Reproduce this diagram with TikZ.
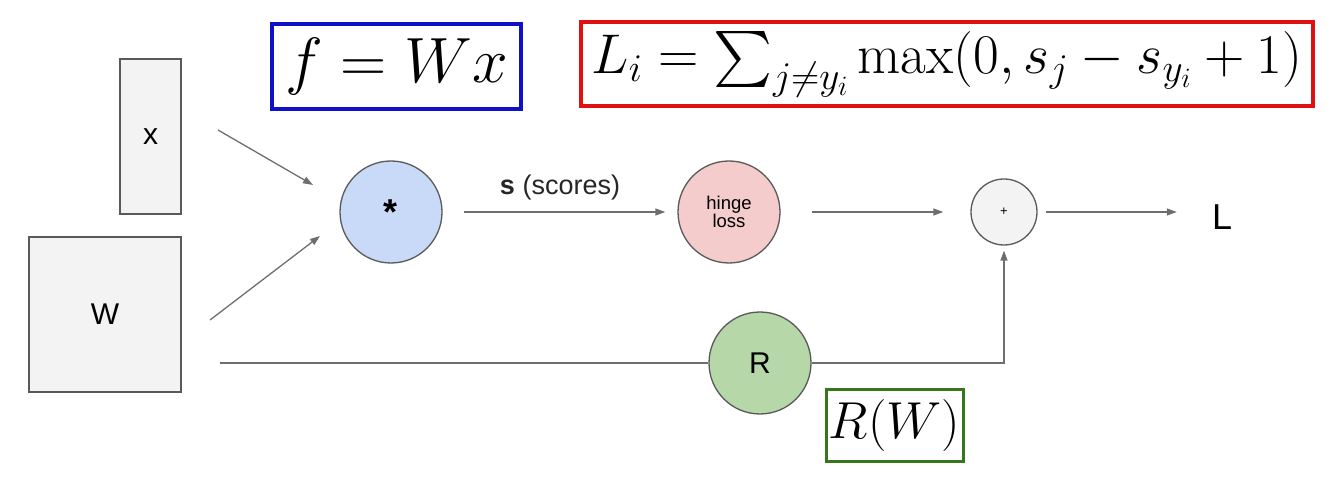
\RequirePackage{fix-cm}
\documentclass[tikz,border=0pt]{standalone}
\usepackage{amsmath}
\DeclareFontShape{OMX}{cmex}{m}{n}{<->cmex10}{}
\usepackage{fontspec}
\setsansfont{Liberation Sans}
\usetikzlibrary{arrows.meta}
\definecolor{boxfill}{HTML}{F3F3F3}
\definecolor{bordergray}{HTML}{595959}
\definecolor{linegray}{HTML}{6E6E6E}
\definecolor{mulfill}{HTML}{C9DAF8}
\definecolor{hingefill}{HTML}{F4CCCC}
\definecolor{rfill}{HTML}{B6D7A8}
\definecolor{fblue}{HTML}{1010C8}
\definecolor{lred}{HTML}{E01010}
\definecolor{rgreen}{HTML}{38761D}
\begin{document}
\begin{tikzpicture}[x=1pt,y=1pt,
  matbox/.style={draw=bordergray,line width=1.3pt,fill=boxfill,font=\sffamily\fontsize{30}{36}\selectfont},
  opnode/.style={circle,draw=bordergray,line width=1.3pt,inner sep=0pt,font=\sffamily},
  arr/.style={draw=linegray,line width=1.3pt,-{Triangle[length=10pt,width=7pt]}},
  plainline/.style={draw=linegray,line width=1.3pt},
  formbox/.style={draw,line width=3.5pt,fill=white,inner sep=0pt,font=\fontsize{64}{76}\selectfont}
]
\useasboundingbox (0,0) rectangle (1331,484);
% input boxes
\node[matbox,minimum width=61,minimum height=155] (xbox) at (150.5,347.5) {x};
\node[matbox,minimum width=152,minimum height=155] (wbox) at (105,169.5) {W};
% operation nodes
\node[opnode,fill=mulfill,minimum size=102,font=\sffamily\bfseries\fontsize{36}{42}\selectfont] (mul) at (391,272) {*};
\node[opnode,fill=hingefill,minimum size=102,font=\sffamily\fontsize{18.5}{21}\selectfont,align=center] (hinge) at (729,272) {hinge\\[-3pt]loss};
\node[opnode,fill=boxfill,minimum size=66,font=\sffamily\fontsize{13}{15}\selectfont] (plus) at (1004,272) {+};
\node[opnode,fill=rfill,minimum size=102,font=\sffamily\fontsize{30}{36}\selectfont] (rn) at (760,121) {R};
\node[font=\sffamily\fontsize{36}{42}\selectfont,inner sep=0pt] (lout) at (1222,267) {L};
% formula boxes
\node[formbox,draw=fblue,minimum width=249,minimum height=85] (fbox) at (396.5,417.5) {$f = Wx$};
\node[formbox,draw=lred,minimum width=732,minimum height=84,font=\fontsize{56}{66}\selectfont] (lbox) at (947,420) {$L_i = \sum_{j\neq y_i}\max(0, s_j - s_{y_i} + 1)$};
\node[formbox,draw=rgreen,line width=3pt,minimum width=137,minimum height=72,font=\fontsize{52}{62}\selectfont] (rwbox) at (894.5,58) {$R(W)$};
% connector end points
\coordinate (xs) at (218,354);
\coordinate (xe) at (313,299);
\coordinate (ws) at (210,164);
\coordinate (we) at (320,248);
\coordinate (rs) at (220,121);
% connectors
\draw[arr] (xs) -- (xe);
\draw[arr] (ws) -- (we);
\draw[arr,shorten <=21pt,shorten >=12pt] (mul) -- node[above=8pt,font=\sffamily\fontsize{27}{32}\selectfont,text=black!85] (slabel) {\textbf{s} (scores)} (hinge);
\draw[arr,shorten <=31pt,shorten >=27pt] (hinge) -- (plus);
\draw[arr,shorten <=8pt,shorten >=35pt] (plus.east) -- (plus.east -| lout.west);
\draw[plainline] (rs) -- (rn.west);
\draw[arr,shorten >=5pt] (rn.east) -| (plus.south);
\end{tikzpicture}
\end{document}
